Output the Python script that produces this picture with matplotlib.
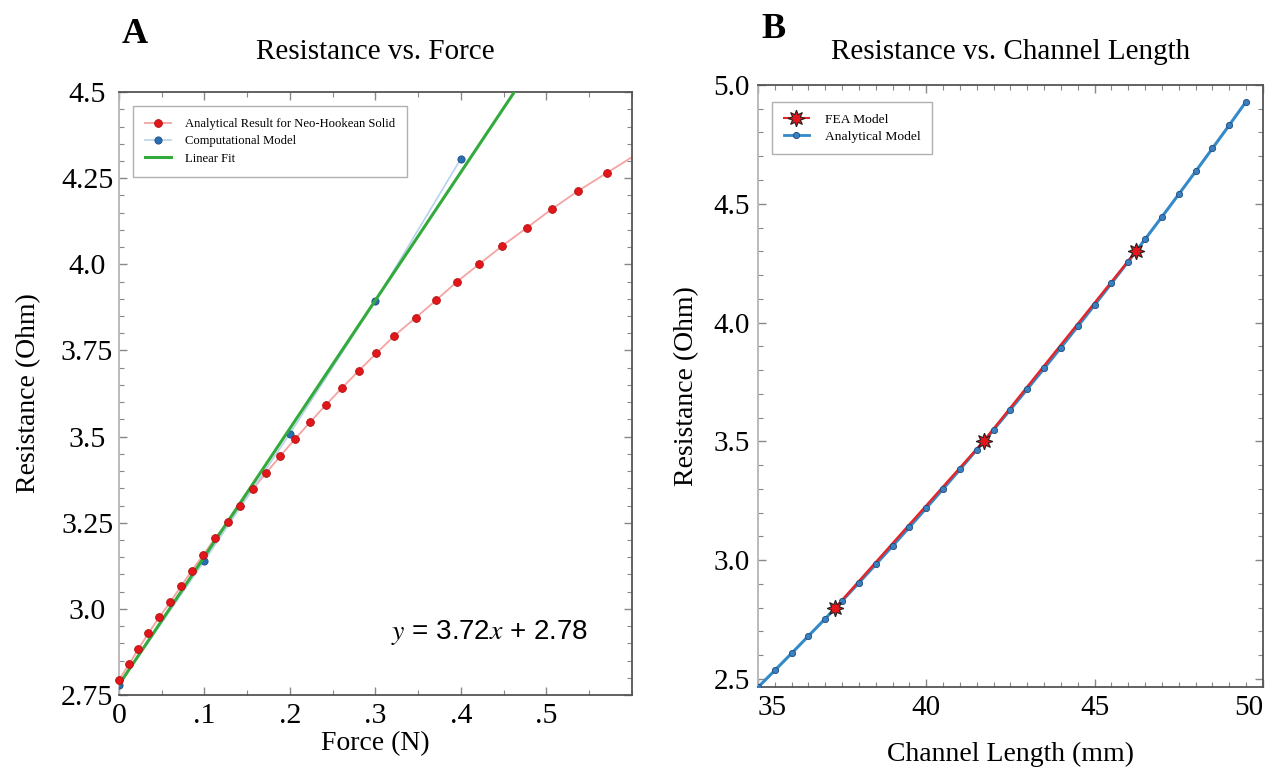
import matplotlib
matplotlib.use("Agg")
import matplotlib.pyplot as plt
from matplotlib.ticker import FixedLocator, MultipleLocator

plt.rcParams['font.family'] = ['Liberation Serif', 'DejaVu Serif']
plt.rcParams['mathtext.fontset'] = 'stix'

# ---- panel A data ----
force_analytical = [0.0, 0.0117, 0.0226, 0.0343, 0.0469, 0.0598, 0.0723, 0.0852, 0.0988,
                    0.1125, 0.127, 0.1415, 0.1565, 0.1722, 0.1885, 0.2055, 0.2232, 0.2416,
                    0.2607, 0.2805, 0.301, 0.3222, 0.347, 0.371, 0.395, 0.421, 0.448,
                    0.477, 0.506, 0.537, 0.571]
res_analytical = [2.794, 2.839, 2.883, 2.929, 2.975, 3.019, 3.065, 3.111, 3.157,
                  3.206, 3.251, 3.299, 3.347, 3.395, 3.443, 3.492, 3.541, 3.591,
                  3.641, 3.691, 3.742, 3.793, 3.845, 3.896, 3.949, 4.0, 4.053,
                  4.106, 4.16, 4.213, 4.266]
force_curve_end = 0.6
res_curve_end = 4.311

force_comp = [0.0, 0.1, 0.2, 0.3, 0.4]
res_comp = [2.78, 3.14, 3.509, 3.894, 4.307]

fit_slope = 3.72
fit_intercept = 2.78

# ---- panel B data ----
length_analytical = [35.0, 35.5, 36.0, 36.5, 37.0, 37.5, 38.0, 38.5, 39.0, 39.5,
                     40.0, 40.5, 41.0, 41.5, 42.0, 42.5, 43.0, 43.5, 44.0, 44.5,
                     45.0, 45.5, 46.0, 46.5, 47.0, 47.5, 48.0, 48.5, 49.0, 49.5]
res_length = [2.465, 2.536, 2.608, 2.681, 2.754, 2.829, 2.905, 2.982, 3.060, 3.139,
              3.219, 3.300, 3.382, 3.465, 3.549, 3.634, 3.720, 3.807, 3.895, 3.984,
              4.074, 4.165, 4.257, 4.351, 4.445, 4.540, 4.636, 4.733, 4.831, 4.930]
length_fea = [37.3, 41.7, 46.23]
res_fea = [2.8, 3.5, 4.3]

fig = plt.figure(figsize=(12.78, 7.69), dpi=100)
axA = fig.add_axes([0.0931, 0.0962, 0.4014, 0.7841])
axB = fig.add_axes([0.5931, 0.1066, 0.3951, 0.7829])


def style_axes(ax, size):
    for side in ['top', 'right', 'bottom']:
        ax.spines[side].set_color('#555555')
        ax.spines[side].set_linewidth(1.3)
    ax.spines['left'].set_color('#b5b5b5')
    ax.spines['left'].set_linewidth(1.3)
    ax.tick_params(which='both', direction='in', top=True, right=True,
                   color='#888888', labelsize=size, pad=6)
    ax.tick_params(which='major', length=6, width=1)
    ax.tick_params(which='minor', length=3.5, width=0.8)


# ---- A ----
red_curve_x = force_analytical + [force_curve_end]
red_curve_y = res_analytical + [res_curve_end]
axA.plot(red_curve_x, red_curve_y, color='#f5a3a3', lw=1.3, zorder=2)
axA.plot(force_analytical, res_analytical, ls='none', marker='o', ms=5.6,
         mfc='#e3161b', mec='#b01010', mew=0.6, zorder=4, clip_on=False)
axA.plot(force_comp, res_comp, color='#b7d3ec', lw=1.2, marker='o', ms=5.2,
         mfc='#2a6db0', mec='#1d4f85', mew=0.6, zorder=3)
fit_x = [0.0, 0.6]
fit_y = [fit_intercept + fit_slope * v for v in fit_x]
axA.plot(fit_x, fit_y, color='#33aa3c', lw=2.2, zorder=3)

# legend handles
hA1, = axA.plot([], [], color='#f5a3a3', lw=1.3, marker='o', ms=5.6,
                mfc='#e3161b', mec='#b01010', mew=0.6)
hA2, = axA.plot([], [], color='#b7d3ec', lw=1.2, marker='o', ms=5.2,
                mfc='#2a6db0', mec='#1d4f85', mew=0.6)
hA3, = axA.plot([], [], color='#33aa3c', lw=2.2)
legA = axA.legend([hA1, hA2, hA3],
                  ['Analytical Result for Neo-Hookean Solid', 'Computational Model', 'Linear Fit'],
                  loc='upper left', bbox_to_anchor=(0.027, 0.977), borderaxespad=0,
                  fontsize=9.1, fancybox=False, edgecolor='#b0b0b0', framealpha=1,
                  handlelength=2.1, borderpad=0.95, labelspacing=0.42, handletextpad=1.1)
legA.get_frame().set_linewidth(1.0)

axA.set_xlim(0, 0.6)
axA.set_ylim(2.75, 4.5)
a_xticks = [0, 0.1, 0.2, 0.3, 0.4, 0.5]
a_xlabels = ['0', '.1', '.2', '.3', '.4', '.5']
a_yticks = [2.75, 3.0, 3.25, 3.5, 3.75, 4.0, 4.25, 4.5]
a_ylabels = ['2.75', '3.0', '3.25', '3.5', '3.75', '4.0', '4.25', '4.5']
axA.xaxis.set_major_locator(FixedLocator(a_xticks))
axA.set_xticklabels(a_xlabels)
axA.yaxis.set_major_locator(FixedLocator(a_yticks))
axA.set_yticklabels(a_ylabels)
axA.xaxis.set_minor_locator(MultipleLocator(0.05))
axA.yaxis.set_minor_locator(MultipleLocator(0.05))
style_axes(axA, 21.5)
axA.tick_params(axis='y', pad=23)
for lab in axA.get_yticklabels():
    lab.set_horizontalalignment('center')
axA.set_xlabel('Force (N)', fontsize=20, labelpad=1)
axA.set_ylabel('Resistance (Ohm)', fontsize=20, labelpad=14)
axA.set_title('Resistance vs. Force', fontsize=21, pad=24)
axA.text(0.53, 0.103, r'$y$ = 3.72$x$ + 2.78', transform=axA.transAxes,
         fontsize=20, family=['Liberation Sans', 'DejaVu Sans'], ha='left', va='center')

# ---- B ----
axB.plot(length_analytical, res_length, color='#3489c9', lw=2.2, zorder=2)
axB.plot(length_fea, res_fea, color='#e2262a', lw=1.8, zorder=3)
axB.plot(length_analytical, res_length, ls='none', marker='o', ms=4.5,
         mfc='#3a80c0', mec='#1f4a78', mew=0.6, zorder=4)
star = (8, 1, 0)
axB.plot(length_fea, res_fea, ls='none', marker=star, ms=12,
         mfc='#e3161b', mec='#222222', mew=0.8, zorder=5)

hB1, = axB.plot([], [], color='#e2262a', lw=1.5, marker=star, ms=12,
                mfc='#e3161b', mec='#222222', mew=0.8)
hB2, = axB.plot([], [], color='#3489c9', lw=2, marker='o', ms=4.5,
                mfc='#3a80c0', mec='#1f4a78', mew=0.6)
legB = axB.legend([hB1, hB2], ['FEA Model', 'Analytical Model'],
                  loc='upper left', bbox_to_anchor=(0.028, 0.972), borderaxespad=0,
                  fontsize=9.7, fancybox=False, edgecolor='#b0b0b0', framealpha=1,
                  handlelength=1.9, borderpad=0.85, labelspacing=0.35, handletextpad=1.15)
legB.get_frame().set_linewidth(1.0)

axB.set_xlim(35, 50)
axB.set_ylim(2.466, 5.0)
axB.xaxis.set_major_locator(FixedLocator([35, 40, 45, 50]))
axB.set_xticklabels(['35', '40', '45', '50'])
axB.yaxis.set_major_locator(FixedLocator([2.5, 3.0, 3.5, 4.0, 4.5, 5.0]))
axB.set_yticklabels(['2.5', '3.0', '3.5', '4.0', '4.5', '5.0'])
axB.xaxis.set_minor_locator(MultipleLocator(0.5))
axB.yaxis.set_minor_locator(MultipleLocator(0.1))
style_axes(axB, 21)
xlabs = axB.get_xticklabels()
xlabs[0].set_horizontalalignment('left')
xlabs[-1].set_horizontalalignment('right')
axB.set_xlabel('Channel Length (mm)', fontsize=20, labelpad=15)
axB.set_ylabel('Resistance (Ohm)', fontsize=20, labelpad=10)
axB.set_title('Resistance vs. Channel Length', fontsize=21, pad=19)

fig.text(0.095, 0.955, 'A', fontsize=26, fontweight='bold', va='center')
fig.text(0.596, 0.962, 'B', fontsize=26, fontweight='bold', va='center')

fig.savefig('out.png', dpi=100)
